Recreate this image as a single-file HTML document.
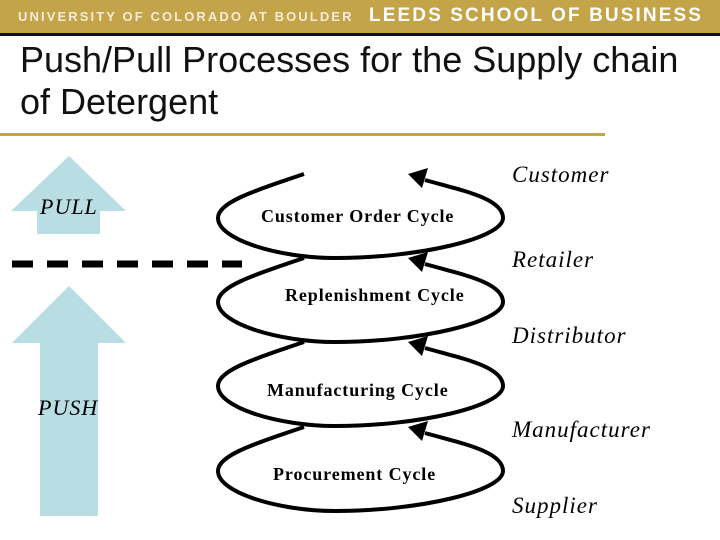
<!DOCTYPE html>
<html><head><style>
body{margin:0;width:720px;height:540px;background:#fff;position:relative;overflow:hidden;font-family:"Liberation Sans",sans-serif}
.hdr{position:absolute;left:0;top:0;width:720px;height:33px;background:#c4a448;border-bottom:3px solid #111}
.t{position:absolute;white-space:nowrap}
.ser{font-family:"Liberation Serif",serif;font-weight:bold;font-size:18px;letter-spacing:0.9px}
.it{font-family:"Liberation Serif",serif;font-style:italic;font-size:23px;letter-spacing:1px}
</style></head><body>
<div class="hdr">
<span class="t" style="left:18px;top:9px;font-size:13px;letter-spacing:2.1px;color:#f4ecd8;font-weight:bold;">UNIVERSITY OF COLORADO AT BOULDER</span>
<span class="t" style="left:369px;top:5px;font-size:19px;letter-spacing:2.1px;color:#fff;font-weight:bold">LEEDS SCHOOL OF BUSINESS</span>
</div>
<div class="t" style="left:20px;top:39px;font-size:36px;line-height:42px;color:#111">Push/Pull Processes for the Supply chain<br>of Detergent</div>
<div style="position:absolute;left:0;top:133px;width:605px;height:3px;background:#c4a448"></div>
<svg width="720" height="540" style="position:absolute;left:0;top:0">
<polygon points="69,156 126,211 100,211 100,234 37,234 37,211 11,211" fill="#b8dde3"/>
<polygon points="69,286 126,343 98,343 98,516 40,516 40,343 12,343" fill="#b8dde3"/>
<line x1="12" y1="264" x2="242" y2="264" stroke="#000" stroke-width="7" stroke-dasharray="21,14"/>
<g fill="none" stroke="#000" stroke-width="4">
<g id="c"><path d="M304,174 C250,192 218,203 218,218 C218,240 280,258 335,258 C420,258 503,238 503,218 C503,198 460,190 425,180"/>
<polygon points="408,174 428,168 422,188" fill="#000" stroke="none"/></g>
<use href="#c" transform="translate(0,84)"/>
<use href="#c" transform="translate(0,168)"/>
<use href="#c" transform="translate(0,253)"/>
</g>
</svg>
<div class="t it" style="left:40px;top:194px;font-size:22px">PULL</div>
<div class="t it" style="left:38px;top:395px;font-size:22px">PUSH</div>
<div class="t ser" style="left:261px;top:206px">Customer Order Cycle</div>
<div class="t ser" style="left:285px;top:285px">Replenishment Cycle</div>
<div class="t ser" style="left:267px;top:380px">Manufacturing Cycle</div>
<div class="t ser" style="left:273px;top:464px">Procurement Cycle</div>
<div class="t it" style="left:512px;top:162px">Customer</div>
<div class="t it" style="left:512px;top:247px">Retailer</div>
<div class="t it" style="left:512px;top:323px">Distributor</div>
<div class="t it" style="left:512px;top:417px">Manufacturer</div>
<div class="t it" style="left:512px;top:493px">Supplier</div>
</body></html>
